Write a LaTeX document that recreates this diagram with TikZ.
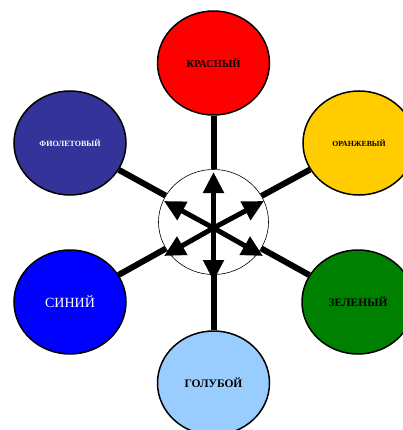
\documentclass[tikz,border=0pt]{standalone}
\usepackage{fontspec}
\setmainfont{Liberation Serif}
\usepackage{tikz}
\usetikzlibrary{shapes.geometric,arrows.meta}
\usepackage{xcolor}
\definecolor{cred}{HTML}{FF0000}
\definecolor{cviolet}{HTML}{333399}
\definecolor{corange}{HTML}{FFCC00}
\definecolor{cblue}{HTML}{0000FF}
\definecolor{cgreen}{HTML}{008000}
\definecolor{clightblue}{HTML}{99CCFF}
\begin{document}
\begin{tikzpicture}[x=1pt,y=-1pt,
    colour/.style={ellipse,draw=black,line width=1.5pt,minimum width=112pt,minimum height=104pt,inner sep=0pt,align=center},
    hubring/.style={ellipse,draw=black,fill=white,line width=0.6pt,minimum width=110pt,minimum height=105pt},
    spoke/.style={line width=6pt},
    shoot/.style={line width=5pt,-{Triangle[length=21pt,width=20pt]}}]
        \useasboundingbox (0,0) rectangle (403,430);
        % hub and the six colours
        \node[hubring] (hub) at (213.5,222) {};
        \node[colour,fill=cred] (red) at (213.5,63) {\fontsize{10.5}{12}\selectfont\bfseries КРАСНЫЙ};
        \node[colour,fill=corange] (orange) at (359,143) {\fontsize{7.8}{9}\selectfont\bfseries ОРАНЖЕВЫЙ};
        \node[colour,fill=cgreen] (green) at (358,302) {\fontsize{11.5}{13}\selectfont\bfseries ЗЕЛЕНЫЙ};
        \node[colour,fill=clightblue] (lightblue) at (213.5,383) {\fontsize{11.5}{13}\selectfont\bfseries ГОЛУБОЙ};
        \node[colour,fill=cblue,text=white] (blue) at (70,302) {\fontsize{14}{16}\selectfont СИНИЙ};
        \node[colour,fill=cviolet,text=white] (violet) at (70,143) {\fontsize{8}{9}\selectfont\bfseries ФИОЛЕТОВЫЙ};
        % spokes
        \foreach \c in {red,orange,green,lightblue,blue,violet}
          \draw[spoke] (hub) -- (\c);
        % arrows
        \coordinate (mid) at (213.5,228);
        \coordinate (tup) at (213.5,172);
        \coordinate (tdown) at (213.5,281);
        \coordinate (tul) at (164,201);
        \coordinate (tur) at (264,201);
        \coordinate (tdl) at (164,256);
        \coordinate (tdr) at (263,256);
        \foreach \t in {tup,tdown,tul,tur,tdl,tdr}
          \draw[shoot] (mid) -- (\t);
      \end{tikzpicture}
\end{document}
